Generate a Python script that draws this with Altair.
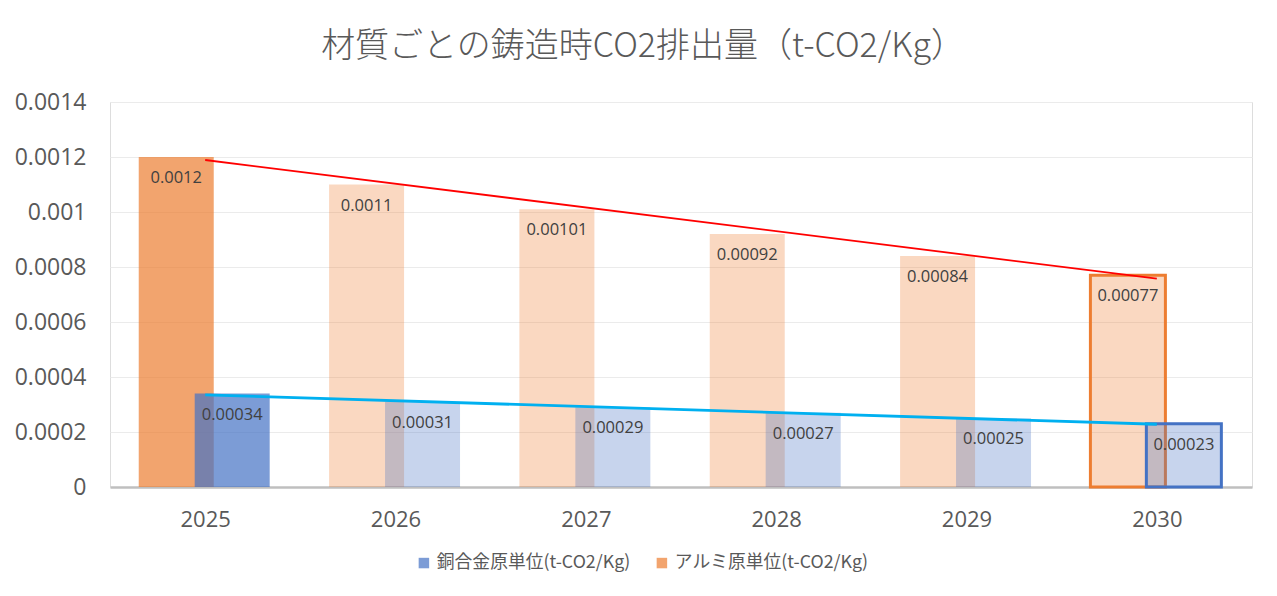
import altair as alt
import pandas as pd

years = [2025, 2026, 2027, 2028, 2029, 2030]
alum = [0.0012, 0.0011, 0.00101, 0.00092, 0.00084, 0.00077]
copper = [0.00034, 0.00031, 0.00029, 0.00027, 0.00025, 0.00023]
S_CU = "銅合金原単位(t-CO2/Kg)"
S_AL = "アルミ原単位(t-CO2/Kg)"
title_text = "材質ごとの鋳造時CO2排出量（t-CO2/Kg）"
y_ticks = [0, 0.0002, 0.0004, 0.0006, 0.0008, 0.001, 0.0012, 0.0014]

rows = [{"year": y, "series": S_AL, "value": v} for y, v in zip(years, alum)]
rows += [{"year": y, "series": S_CU, "value": v} for y, v in zip(years, copper)]
df = pd.DataFrame(rows)

LAB = "Open Sans"
JP = "Noto Sans CJK JP"

xscale = alt.Scale(domain=[2024.5, 2030.5], nice=False, zero=False, padding=0)
yscale = alt.Scale(domain=[0, 0.0014], nice=False)

base = alt.Chart(df).transform_calculate(
    xpos=f"datum.series == '{S_AL}' ? datum.year - 0.152 : datum.year + 0.142"
)

xenc = alt.X("xpos:Q", scale=xscale, title=None,
             axis=alt.Axis(values=years, format="d", ticks=False, grid=False,
                           domainColor="#BFBFBF", domainWidth=2.5,
                           labelFontSize=22, labelColor="#595959", labelFont=LAB,
                           labelPadding=22))
yenc = alt.Y("value:Q", scale=yscale, title=None,
             axis=alt.Axis(values=y_ticks, format="~g", ticks=False, domain=False,
                           gridColor="#EBEBEB", gridWidth=1.2,
                           labelFontSize=23, labelColor="#595959", labelFont=LAB,
                           labelPadding=24))

fill = alt.Fill("series:N",
                scale=alt.Scale(domain=[S_CU, S_AL], range=["#4472C4", "#ED7D31"]),
                legend=alt.Legend(title=None, orient="none", legendX=305, legendY=452,
                                  direction="horizontal", columns=2, symbolType="square",
                                  symbolSize=110, symbolOpacity=0.7, symbolStrokeWidth=0,
                                  labelFontSize=17.8, labelColor="#595959", labelFont=JP,
                                  labelLimit=0, columnPadding=22, padding=0))

fop = alt.condition("datum.year == 2025", alt.value(0.7), alt.value(0.3))
sop = alt.condition("datum.year == 2030", alt.value(1), alt.value(0))

bars_al = base.transform_filter(f"datum.series == '{S_AL}'").mark_bar(
    width=75, stroke="#ED7D31", strokeWidth=3).encode(
    x=xenc, y=yenc, fill=fill, fillOpacity=fop, strokeOpacity=sop)
bars_cu = base.transform_filter(f"datum.series == '{S_CU}'").mark_bar(
    width=75, stroke="#4472C4", strokeWidth=3).encode(
    x=alt.X("xpos:Q"), y=alt.Y("value:Q"), fill=fill, fillOpacity=fop, strokeOpacity=sop)

labels = base.mark_text(baseline="middle", dy=21, fontSize=16.5, font=LAB,
                        color="#404040").encode(
    x=alt.X("xpos:Q"), y=alt.Y("value:Q"), text=alt.Text("value:Q", format="~g"))

trend_al = alt.Chart(df).transform_filter(f"datum.series == '{S_AL}'").transform_regression(
    "year", "value", method="linear").mark_line(color="#FF0000", strokeWidth=1.8).encode(
    x=alt.X("year:Q"), y=alt.Y("value:Q"))
trend_cu = alt.Chart(df).transform_filter(f"datum.series == '{S_CU}'").transform_regression(
    "year", "value", method="linear").mark_line(color="#00B0F0", strokeWidth=2.8).encode(
    x=alt.X("year:Q"), y=alt.Y("value:Q"))

chart = alt.layer(bars_al, bars_cu, trend_al, trend_cu, labels).properties(
    width=1142, height=385,
    title=alt.TitleParams(title_text, fontSize=34, font=JP, fontWeight=300,
                          color="#595959", anchor="middle", offset=27, dx=-38),
    autosize=alt.AutoSizeParams(type="none"),
    padding={"left": 102, "top": 94, "right": 17, "bottom": 101},
).configure_view(stroke=None).configure(background="white")

chart.save("out.html", embed_options={"renderer": "svg", "actions": False})
